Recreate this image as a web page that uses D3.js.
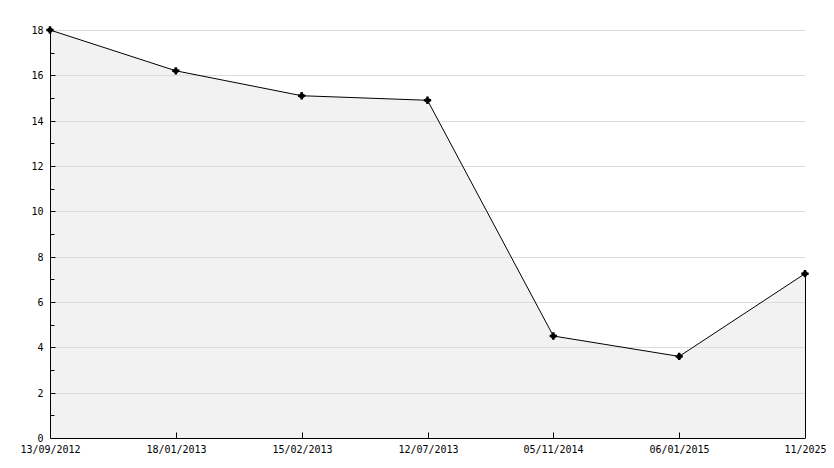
<!DOCTYPE html>
<html>
<head>
<meta charset="utf-8">
<script src="https://cdn.jsdelivr.net/npm/d3@7"></script>
<style>
  body { margin: 0; background: #fff; }
  text { font-family: "DejaVu Sans Mono", monospace; font-size: 10px; fill: #000; }
</style>
</head>
<body>
<svg width="834" height="468"></svg>
<script>
// data
var dates = ["13/09/2012", "18/01/2013", "15/02/2013", "12/07/2013", "05/11/2014", "06/01/2015", "11/2025"];
var values = [18, 16.2, 15.1, 14.9, 4.5, 3.6, 7.25];
var yTicks = [0, 2, 4, 6, 8, 10, 12, 14, 16, 18];

var svg = d3.select("svg");
var plotL = 50, plotR = 805, plotT = 30, plotB = 438;

var x = d3.scalePoint().domain(dates).range([plotL, plotR]);
var y = d3.scaleLinear().domain([0, 18]).range([plotB, plotT]);

var pts = dates.map(function(d, i) { return { d: d, v: values[i] }; });

// area under the line
svg.append("path")
    .datum(pts)
    .attr("fill", "#f2f2f2")
    .attr("d", d3.area()
	  .x(function(p) { return x(p.d); })
	  .y0(plotB)
	  .y1(function(p) { return y(p.v); }));

// gridlines
svg.append("g").selectAll("line")
    .data(yTicks.filter(function(t) { return t > 0; }))
    .enter().append("line")
    .attr("x1", plotL).attr("x2", plotR)
    .attr("y1", function(t) { return Math.round(y(t)) + 0.5; })
    .attr("y2", function(t) { return Math.round(y(t)) + 0.5; })
    .attr("stroke", "#dcdcdc");

// y axis: ticks point inward
var yAxis = svg.append("g").attr("transform", "translate(" + (plotL + 0.5) + ",0.5)");
yAxis.append("line").attr("x1", 0).attr("x2", 0)
    .attr("y1", Math.round(y(18))).attr("y2", plotB).attr("stroke", "#000");
yAxis.selectAll("line.tk")
    .data(d3.range(1, 18, 1))
    .enter().append("line").attr("class", "tk")
    .attr("x1", 0).attr("x2", function(t) { return t % 2 ? 4 : 5; })
    .attr("y1", function(t) { return Math.round(y(t)); })
    .attr("y2", function(t) { return Math.round(y(t)); })
    .attr("stroke", "#000");
yAxis.selectAll("text")
    .data(yTicks)
    .enter().append("text")
    .attr("x", -7)
    .attr("y", function(t) { return Math.round(y(t)) + 3.5; })
    .attr("text-anchor", "end")
    .text(function(t) { return t; });

// x axis
var xAxis = svg.append("g").attr("transform", "translate(0.5," + (plotB + 0.5) + ")");
xAxis.append("line").attr("x1", plotL).attr("x2", plotR).attr("y1", 0).attr("y2", 0).attr("stroke", "#000");
xAxis.selectAll("line.tk")
    .data(dates.slice(1, -1))
    .enter().append("line").attr("class", "tk")
    .attr("x1", function(d) { return Math.round(x(d)); })
    .attr("x2", function(d) { return Math.round(x(d)); })
    .attr("y1", 0).attr("y2", -6)
    .attr("stroke", "#000");
xAxis.selectAll("text")
    .data(dates)
    .enter().append("text")
    .attr("x", function(d) { return Math.round(x(d)); })
    .attr("y", 14.5)
    .attr("text-anchor", "middle")
    .text(function(d) { return d; });

// right edge of the filled area
var last = pts[pts.length - 1];
svg.append("line")
    .attr("x1", x(last.d) + 0.5).attr("x2", x(last.d) + 0.5)
    .attr("y1", y(last.v)).attr("y2", plotB)
    .attr("stroke", "#000");

// the line itself
svg.append("path")
    .datum(pts)
    .attr("fill", "none")
    .attr("stroke", "#000")
    .attr("stroke-width", 1)
    .attr("d", d3.line()
	  .x(function(p) { return x(p.d); })
	  .y(function(p) { return y(p.v); }));

// markers
svg.append("g").selectAll("path")
    .data(pts)
    .enter().append("path")
    .attr("transform", function(p) { return "translate(" + x(p.d) + "," + y(p.v) + ")"; })
    .attr("d", d3.symbol().type(d3.symbolCross).size(30))
    .attr("fill", "#000");
svg.append("g").selectAll("circle")
    .data(pts)
    .enter().append("circle")
    .attr("cx", function(p) { return x(p.d); })
    .attr("cy", function(p) { return y(p.v); })
    .attr("r", 2.6)
    .attr("fill", "#000");
</script>
</body>
</html>
